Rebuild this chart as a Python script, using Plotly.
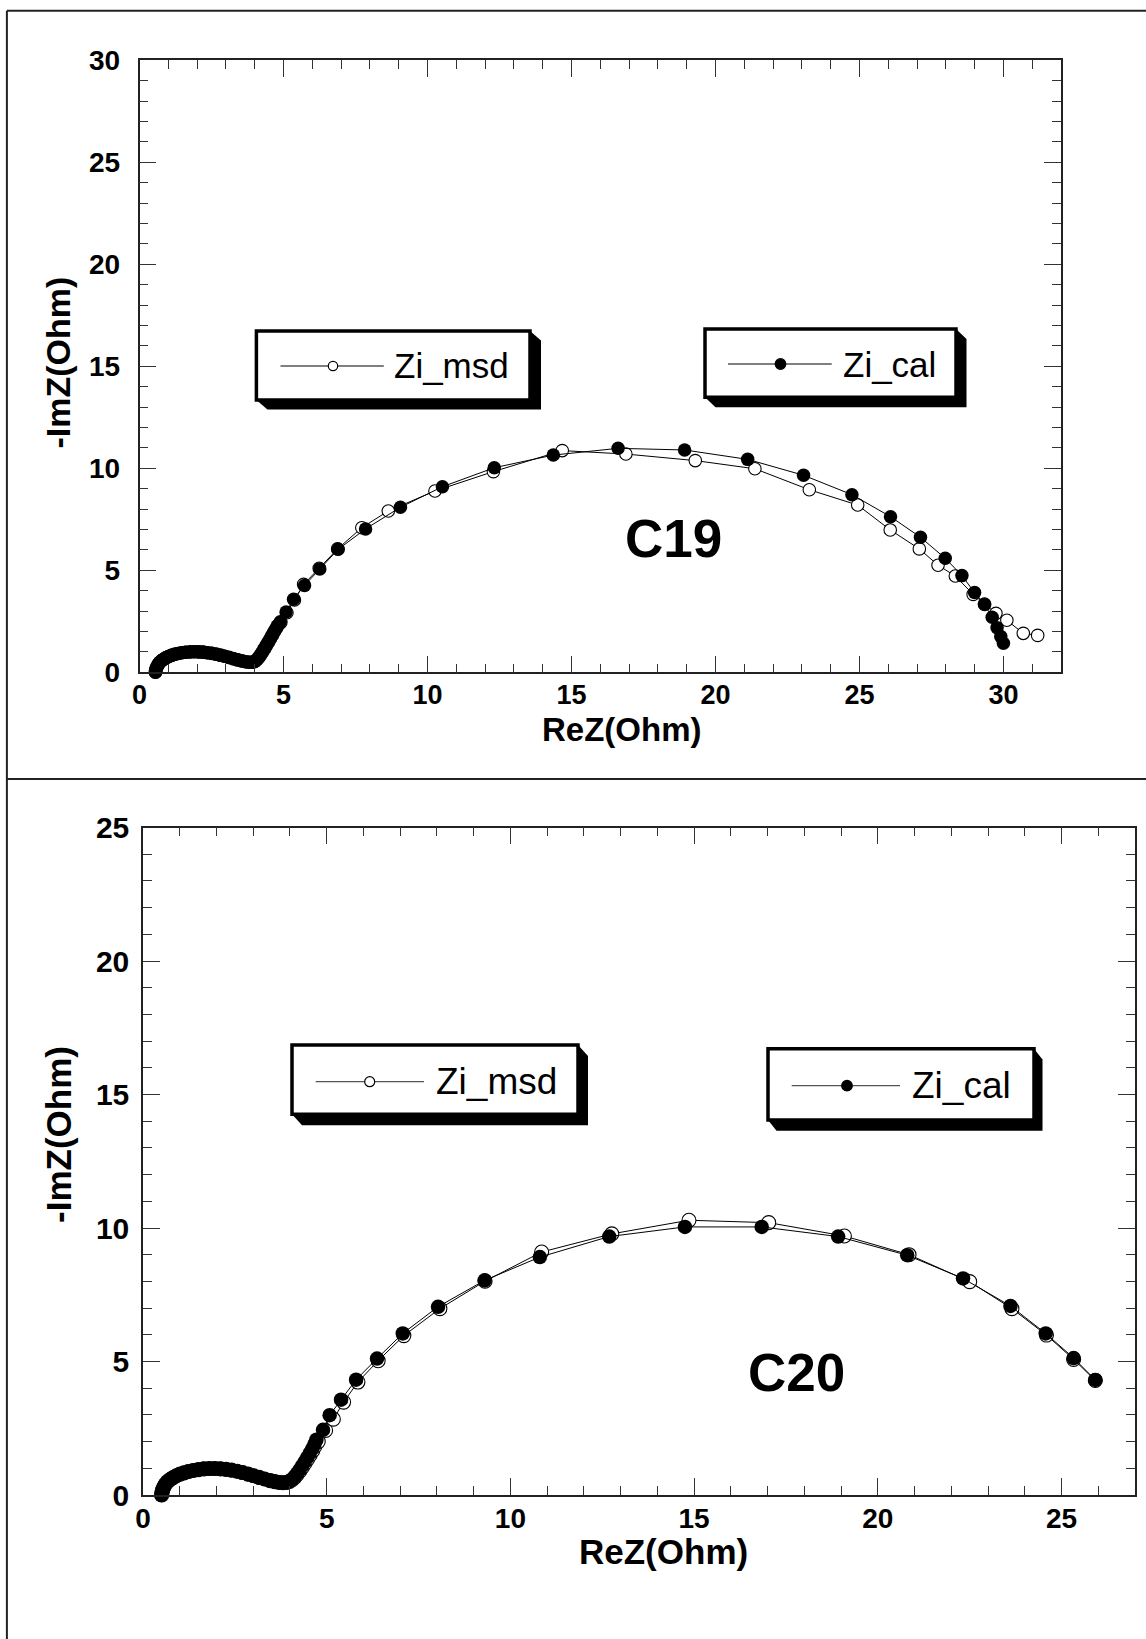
import plotly.graph_objects as go

# ---------------- data ----------------
# C19 (top panel)
c19_msd_x = [0.56, 0.57, 0.59, 0.62, 0.66, 0.71, 0.77, 0.84, 0.92, 1.01, 1.11, 1.22, 1.34, 1.47, 1.61,
             1.76, 1.91, 2.06, 2.21, 2.36, 2.51, 2.66, 2.81, 2.96, 3.11, 3.26, 3.41, 3.56, 3.69, 3.81,
             3.91, 3.99, 4.06, 4.13, 4.20, 4.27, 4.34, 4.41, 4.48, 4.55, 4.62, 4.69, 4.76, 4.82,
             4.91, 5.12, 5.38, 5.70, 6.24, 6.88, 7.72, 8.64, 10.26, 12.29, 14.68, 16.89, 19.30,
             21.37, 23.26, 24.94, 26.07, 27.08, 27.73, 28.33, 28.95, 29.34, 29.74, 30.12, 30.69, 31.19]
c19_msd_y = [0.00, 0.10, 0.20, 0.30, 0.40, 0.49, 0.57, 0.64, 0.71, 0.77, 0.83, 0.88, 0.92, 0.96, 0.98,
             1.00, 1.01, 1.00, 0.99, 0.96, 0.93, 0.89, 0.84, 0.79, 0.73, 0.67, 0.61, 0.56, 0.52, 0.49,
             0.49, 0.52, 0.59, 0.70, 0.83, 0.98, 1.14, 1.31, 1.48, 1.65, 1.83, 2.00, 2.17, 2.32,
             2.45, 2.92, 3.55, 4.31, 5.10, 6.05, 7.09, 7.91, 8.89, 9.84, 10.87, 10.70, 10.38,
             9.98, 8.95, 8.20, 6.98, 6.05, 5.25, 4.72, 3.82, 3.35, 2.89, 2.55, 1.91, 1.81]

c19_cal_x = [0.55, 0.56, 0.58, 0.61, 0.65, 0.70, 0.76, 0.83, 0.91, 1.00, 1.10, 1.21, 1.33, 1.46, 1.60,
             1.75, 1.90, 2.05, 2.20, 2.35, 2.50, 2.65, 2.80, 2.95, 3.10, 3.25, 3.40, 3.55, 3.68, 3.80,
             3.90, 4.00, 4.06, 4.12, 4.18, 4.24, 4.30, 4.36, 4.42, 4.48, 4.54, 4.60, 4.66, 4.72, 4.78,
             4.89, 5.09, 5.35, 5.73, 6.26, 6.90, 7.85, 9.06, 10.52, 12.32, 14.37, 16.62, 18.93,
             21.12, 23.06, 24.74, 26.08, 27.12, 27.98, 28.56, 29.00, 29.35, 29.61, 29.78, 29.91, 30.00]
c19_cal_y = [0.00, 0.10, 0.20, 0.30, 0.40, 0.49, 0.57, 0.64, 0.71, 0.77, 0.83, 0.88, 0.92, 0.96, 0.98,
             1.00, 1.01, 1.00, 0.99, 0.96, 0.93, 0.89, 0.84, 0.79, 0.73, 0.67, 0.61, 0.56, 0.52, 0.49,
             0.49, 0.53, 0.60, 0.70, 0.82, 0.95, 1.09, 1.23, 1.37, 1.51, 1.66, 1.81, 1.96, 2.11, 2.27,
             2.48, 2.96, 3.58, 4.26, 5.07, 6.03, 7.03, 8.09, 9.10, 10.03, 10.65, 10.98, 10.90,
             10.44, 9.66, 8.71, 7.63, 6.62, 5.59, 4.74, 3.91, 3.32, 2.70, 2.19, 1.75, 1.42]

# C20 (bottom panel)
c20_msd_x = [0.51, 0.52, 0.54, 0.57, 0.61, 0.67, 0.74, 0.82, 0.91, 1.01, 1.12, 1.24, 1.37, 1.51, 1.66,
             1.81, 1.96, 2.11, 2.26, 2.41, 2.56, 2.71, 2.86, 3.01, 3.16, 3.31, 3.46, 3.59, 3.71, 3.81,
             3.91, 3.99, 4.06, 4.13, 4.20, 4.27, 4.34, 4.41, 4.48, 4.55, 4.62, 4.68,
             4.77, 4.97, 5.18, 5.46, 5.85, 6.40, 7.10, 8.08, 9.31, 10.85, 12.76, 14.86, 17.03,
             19.09, 20.85, 22.50, 23.65, 24.59, 25.33, 25.92]
c20_msd_y = [0.00, 0.10, 0.20, 0.30, 0.40, 0.50, 0.58, 0.65, 0.72, 0.78, 0.83, 0.88, 0.92, 0.95, 0.98,
             0.99, 0.99, 0.98, 0.96, 0.93, 0.89, 0.84, 0.78, 0.72, 0.66, 0.60, 0.54, 0.50, 0.47, 0.46,
             0.47, 0.51, 0.57, 0.66, 0.77, 0.90, 1.04, 1.19, 1.34, 1.50, 1.66, 1.83,
             2.00, 2.42, 2.84, 3.48, 4.23, 5.03, 5.97, 6.98, 8.01, 9.10, 9.78, 10.29, 10.20,
             9.70, 9.00, 7.99, 6.98, 5.99, 5.08, 4.29]

c20_cal_x = [0.50, 0.51, 0.53, 0.56, 0.60, 0.66, 0.73, 0.81, 0.90, 1.00, 1.11, 1.23, 1.36, 1.50, 1.65,
             1.80, 1.95, 2.10, 2.25, 2.40, 2.55, 2.70, 2.85, 3.00, 3.15, 3.30, 3.45, 3.58, 3.70, 3.80,
             3.90, 3.98, 4.05, 4.12, 4.19, 4.26, 4.33, 4.40, 4.47, 4.54, 4.61, 4.67,
             4.72, 4.90, 5.08, 5.39, 5.80, 6.37, 7.07, 8.03, 9.30, 10.80, 12.69, 14.75, 16.84,
             18.92, 20.80, 22.32, 23.61, 24.57, 25.33, 25.92]
c20_cal_y = [0.00, 0.10, 0.20, 0.30, 0.40, 0.50, 0.58, 0.65, 0.72, 0.78, 0.83, 0.88, 0.92, 0.95, 0.98,
             0.99, 0.99, 0.98, 0.96, 0.93, 0.89, 0.84, 0.78, 0.72, 0.66, 0.60, 0.54, 0.50, 0.47, 0.46,
             0.47, 0.51, 0.58, 0.68, 0.80, 0.94, 1.09, 1.24, 1.40, 1.57, 1.74, 1.91,
             2.07, 2.44, 2.99, 3.57, 4.32, 5.11, 6.05, 7.05, 8.04, 8.91, 9.68, 10.04, 10.04,
             9.68, 8.98, 8.11, 7.08, 6.05, 5.13, 4.31]

series_names = ["Zi_msd", "Zi_cal"]
panel_labels = ["C19", "C20"]
x_title = "ReZ(Ohm)"
y_title = "-ImZ(Ohm)"

# ---------------- layout helpers ----------------
W, H = 1146, 1639


def px(x):
    return x / W


def py(y):
    return 1 - y / H


FONT = "Liberation Sans, Arial, sans-serif"

fig = go.Figure()


def add_pair(mx, my, cx, cy, xa, ya, msize, csize):
    fig.add_trace(go.Scatter(
        x=mx, y=my, xaxis=xa, yaxis=ya, mode="lines+markers", name=series_names[0],
        line=dict(color="black", width=1),
        marker=dict(symbol="circle", size=msize, color="white", line=dict(color="black", width=1.1)),
        cliponaxis=False))
    fig.add_trace(go.Scatter(
        x=cx, y=cy, xaxis=xa, yaxis=ya, mode="lines+markers", name=series_names[1],
        line=dict(color="black", width=1),
        marker=dict(symbol="circle", size=csize, color="black", line=dict(color="black", width=0)),
        cliponaxis=False))


add_pair(c19_msd_x, c19_msd_y, c19_cal_x, c19_cal_y, "x", "y", 12.5, 13.5)
add_pair(c20_msd_x, c20_msd_y, c20_cal_x, c20_cal_y, "x2", "y2", 14, 14.5)


def axis(rng, dom, anchor, fsize, standoff):
    return dict(
        range=rng, domain=dom, anchor=anchor, autorange=False, automargin=False,
        showgrid=False, zeroline=False, showline=True, linecolor="#222", linewidth=1.5,
        mirror="allticks", ticks="inside", ticklen=17, tickwidth=1.3, tickcolor="#333",
        tick0=0, dtick=5,
        minor=dict(dtick=1, ticks="inside", ticklen=9, tickwidth=1.3, tickcolor="#333"),
        tickfont=dict(family=FONT, size=fsize, color="black", weight="bold"),
        ticklabelstandoff=standoff,
    )


fig.update_layout(
    width=W, height=H, margin=dict(l=0, r=0, t=0, b=0, pad=0, autoexpand=False),
    paper_bgcolor="white", plot_bgcolor="white", showlegend=False,
    xaxis=axis([0, 32], [px(139.5), px(1061)], "y", 27, -2),
    yaxis=axis([0, 30], [py(672.3), py(60.4)], "x", 28, 12),
    xaxis2=axis([0, 27], [px(143), px(1135)], "y2", 28, -2),
    yaxis2=axis([0, 25], [py(1495), py(827.5)], "x2", 30, 6),
)

shapes = []
annotations = []

# page frame
for (x0, y0, x1, y1) in [(6.9, 10.7, W, 10.7), (6.9, 10.7, 6.9, H), (6.9, 779, W, 779)]:
    shapes.append(dict(type="line", xref="paper", yref="paper",
                       x0=px(x0), y0=py(y0), x1=px(x1), y1=py(y1),
                       line=dict(color="#222", width=2)))


def legend_box(x0, y0, x1, y1, sx, sy, lx0, lx1, ly, mx, filled, text, tx, fsize, r):
    path = (f"M {px(x1)},{py(y0)} L {px(x1 + sx)},{py(y0 + sy)} L {px(x1 + sx)},{py(y1 + sy)} "
            f"L {px(x0 + sx)},{py(y1 + sy)} L {px(x0)},{py(y1)} Z")
    shapes.append(dict(type="path", xref="paper", yref="paper", path=path,
                       fillcolor="black", line=dict(color="black", width=0)))
    shapes.append(dict(type="rect", xref="paper", yref="paper",
                       x0=px(x0), y0=py(y1), x1=px(x1), y1=py(y0),
                       fillcolor="white", line=dict(color="black", width=3.5)))
    shapes.append(dict(type="line", xref="paper", yref="paper",
                       x0=px(lx0), y0=py(ly), x1=px(lx1), y1=py(ly),
                       line=dict(color="#555", width=1.3)))
    shapes.append(dict(type="circle", xref="paper", yref="paper",
                       xsizemode="pixel", ysizemode="pixel",
                       xanchor=px(mx), yanchor=py(ly), x0=-r, x1=r, y0=-r, y1=r,
                       fillcolor="black" if filled else "white",
                       line=dict(color="black", width=1.2)))
    annotations.append(dict(text=text, xref="paper", yref="paper", x=px(tx), y=py(ly),
                            xanchor="left", yanchor="middle", showarrow=False,
                            font=dict(family=FONT, size=fsize, color="black")))


legend_box(256.4, 331, 530, 400, 11, 9.5, 280.5, 383.8, 366, 333, False, series_names[0], 392, 35, 4.7)
legend_box(705, 329, 956, 397.3, 10.5, 10, 728, 831.7, 364, 780.5, True, series_names[1], 841, 35, 5.3)
legend_box(292, 1045, 578, 1114.3, 10, 11, 315.7, 424, 1081.7, 369.7, False, series_names[0], 434, 37, 5)
legend_box(768, 1048.7, 1034, 1120, 8.5, 10.7, 791.7, 900, 1085.7, 847, True, series_names[1], 910, 37, 5.3)

# panel labels
annotations.append(dict(text=f"<b>{panel_labels[0]}</b>", xref="paper", yref="paper", x=px(673), y=py(538),
                        xanchor="center", yanchor="middle", showarrow=False,
                        font=dict(family=FONT, size=53, color="black")))
annotations.append(dict(text=f"<b>{panel_labels[1]}</b>", xref="paper", yref="paper", x=px(796), y=py(1372),
                        xanchor="center", yanchor="middle", showarrow=False,
                        font=dict(family=FONT, size=53, color="black")))

# axis titles
for (x, y, s) in [(622, 729, 33), (663, 1551, 35)]:
    annotations.append(dict(text=f"<b>{x_title}</b>", xref="paper", yref="paper", x=px(x), y=py(y),
                            xanchor="center", yanchor="middle", showarrow=False,
                            font=dict(family=FONT, size=s, color="black")))
for (x, y, s) in [(57.5, 363, 34), (58.5, 1134.5, 35)]:
    annotations.append(dict(text=f"<b>{y_title}</b>", xref="paper", yref="paper", x=px(x), y=py(y),
                            xanchor="center", yanchor="middle", showarrow=False, textangle=-90,
                            font=dict(family=FONT, size=s, color="black")))

fig.update_layout(shapes=shapes, annotations=annotations)
fig.write_html(
    "out.html",
    post_script="document.body.style.margin='0px';document.body.style.padding='0px';"
                "document.documentElement.style.margin='0px';",
)
